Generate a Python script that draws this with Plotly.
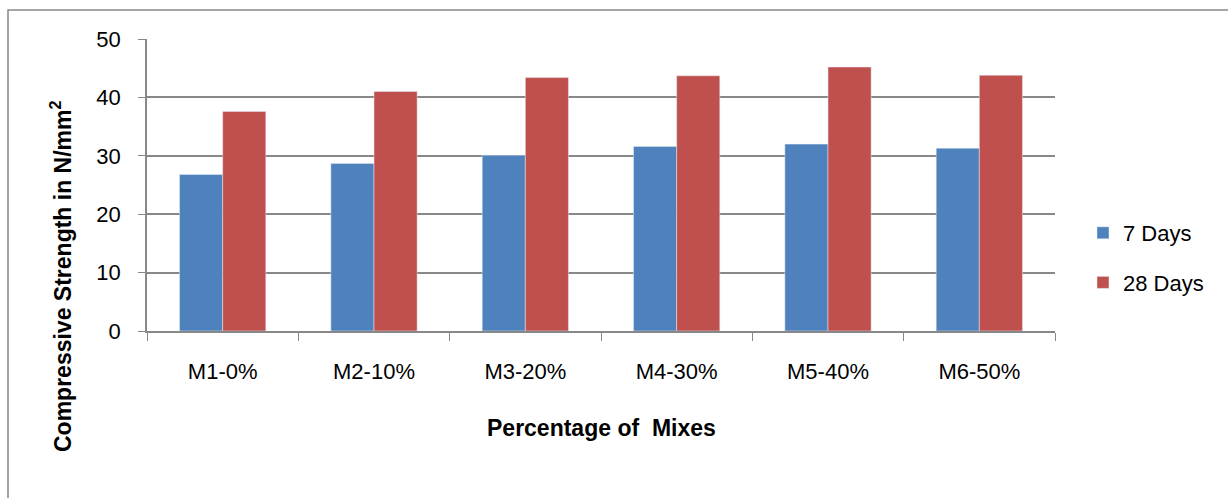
import plotly.graph_objects as go

categories = ["M1-0%", "M2-10%", "M3-20%", "M4-30%", "M5-40%", "M6-50%"]
days7 = [26.8, 28.7, 30.1, 31.6, 32.0, 31.3]
days28 = [37.6, 41.0, 43.4, 43.7, 45.2, 43.8]
yticks = [0, 10, 20, 30, 40, 50]

FONT = "Liberation Sans, Arial, sans-serif"
GRID = "#888888"

fig = go.Figure()
fig.add_trace(go.Bar(x=categories, y=days7, name="7 Days", marker_color="#4F81BD",
                     legendgroup="a"))
fig.add_trace(go.Bar(x=categories, y=days28, name="28 Days", marker_color="#C0504D",
                     legendgroup="b"))

L, R, T, B = 147, 1055, 39, 331
W, H = 1228, 498
PW, PH = R - L, B - T

def px(x):
    return (x - L) / PW

def py(y):
    return (B - y) / PH

fig.update_layout(
    width=W, height=H,
    margin=dict(l=L, r=W - R, t=T, b=H - B, autoexpand=False),
    paper_bgcolor="white", plot_bgcolor="white",
    barmode="group", bargap=0.43, bargroupgap=0,
    font=dict(family=FONT, size=22, color="black"),
    showlegend=True,
    legend=dict(x=px(1083), y=py(258), xanchor="left", yanchor="middle",
                traceorder="grouped", tracegroupgap=18,
                font=dict(size=22)),
    xaxis=dict(
        showline=True, linecolor=GRID, linewidth=1.5,
        ticks="outside", tickson="boundaries", ticklen=8, tickcolor=GRID, tickwidth=1,
        ticklabelstandoff=20,
    ),
    yaxis=dict(
        range=[0, 50], tickvals=yticks,
        showline=True, linecolor=GRID, linewidth=1.5,
        ticks="outside", ticklen=7, tickcolor=GRID, tickwidth=1,
        showgrid=True, gridcolor=GRID, gridwidth=1.5,
        ticklabelstandoff=13,
        zeroline=False,
    ),
    annotations=[
        dict(text="<b>Percentage of  Mixes</b>", xref="paper", yref="paper",
             x=px(601), y=py(428), xanchor="center", yanchor="middle",
             showarrow=False, font=dict(size=23)),
        dict(text="<b>Compressive Strength in N/mm<sup>2</sup></b>", xref="paper", yref="paper",
             x=px(61), y=py(276), xanchor="center", yanchor="middle", textangle=-90,
             showarrow=False, font=dict(size=23)),
    ],
)

# outer chart border (only top and left edges fall inside the picture)
fig.add_shape(type="rect", xref="paper", yref="paper",
              x0=px(8), x1=px(1240), y0=py(520), y1=py(10),
              line=dict(color=GRID, width=1.5), fillcolor="rgba(0,0,0,0)", layer="below")

fig.write_html("out.html", config={"displayModeBar": False},
               post_script="document.body.style.margin='0px';")
